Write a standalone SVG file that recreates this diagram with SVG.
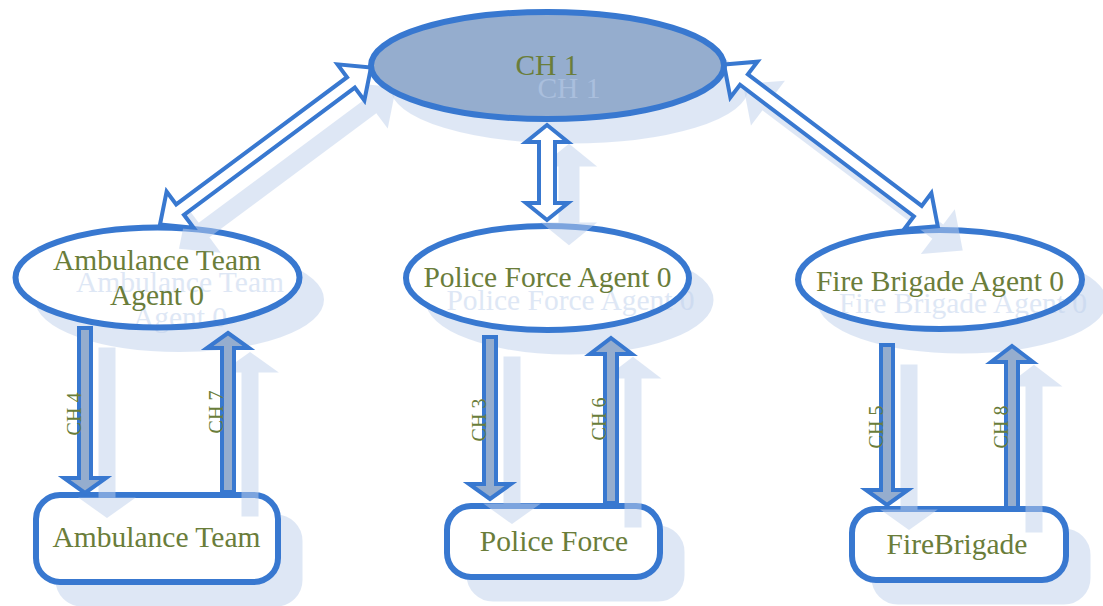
<svg xmlns="http://www.w3.org/2000/svg" xmlns:xlink="http://www.w3.org/1999/xlink" width="1103" height="606" viewBox="0 0 1103 606">
<style>
.sh{fill:#bfd1ed;stroke:#bfd1ed;stroke-width:5;opacity:.5}
.node{fill:#fff;stroke:#3878d0;stroke-width:6}
.fillonly{stroke:none}
.strokeonly{fill:none;stroke:#3878d0;stroke-width:6}
.top{fill:#95adce}
.t{font-family:"Liberation Serif","Times New Roman",serif;font-size:29.5px;fill:#6a7d3a;text-anchor:middle}
.ts{font-family:"Liberation Serif","Times New Roman",serif;font-size:29.5px;fill:#bfd1ed;opacity:.5;text-anchor:middle}
.lbl{font-family:"Liberation Serif","Times New Roman",serif;font-size:20px;fill:#6a7d3a;text-anchor:middle}
.da{fill:#fff;stroke:#3878d0;stroke-width:4;stroke-linejoin:miter}
.ba{fill:#95adce;stroke:#3878d0;stroke-width:4;stroke-linejoin:miter}
</style>
<defs>
<polygon id="dL" points="0,0 25,-22.5 25,-6.5 238,-6.5 238,-22.5 263,0 238,22.5 238,6.5 25,6.5 25,22.5" transform="translate(160,224.5) rotate(-36.65)"/>
<polygon id="dR" points="0,0 25,-22.5 25,-6.5 243,-6.5 243,-22.5 268,0 243,22.5 243,6.5 25,6.5 25,22.5" transform="translate(724,64.5) rotate(37.1)"/>
<polygon id="dM" points="547,125 568,142 555,142 555,203 568,203 547,220 526,203 539,203 539,142 526,142"/>
<polygon id="a4" points="79,328 91,328 91,478 106,478 85,493 64,478 79,478"/>
<polygon id="a7" points="228,333 249,348 234,348 234,492 222,492 222,348 207,348"/>
<polygon id="a3" points="484,337 496,337 496,484 511,484 490,499 469,484 484,484"/>
<polygon id="a6" points="611,338 632,354 617,354 617,503 605,503 605,354 590,354"/>
<polygon id="a5" points="881,345 893,345 893,490 908,490 887,505 866,490 881,490"/>
<polygon id="a8" points="1012,346 1033,362 1018,362 1018,508 1006,508 1006,362 991,362"/>
</defs>

<g id="ch1-shadow">
<ellipse class="sh" cx="569.5" cy="87.5" rx="176.5" ry="53.5"/>
</g>

<g id="ambulance-agent">
<ellipse class="sh" cx="179.5" cy="299.5" rx="142" ry="50"/>
<ellipse class="node fillonly" cx="157.5" cy="277.5" rx="142" ry="50"/>
<text class="ts" x="180" y="292">Ambulance Team</text>
<text class="ts" x="180" y="327">Agent 0</text>
<ellipse class="strokeonly" cx="157.5" cy="277.5" rx="142" ry="50"/>
<text class="t" x="157" y="270">Ambulance Team</text>
<text class="t" x="157" y="305">Agent 0</text>
</g>

<g id="police-agent">
<ellipse class="sh" cx="569.5" cy="300" rx="141.5" ry="52"/>
<ellipse class="node fillonly" cx="547.5" cy="278" rx="141.5" ry="52"/>
<text class="ts" x="570.5" y="310">Police Force Agent 0</text>
<ellipse class="strokeonly" cx="547.5" cy="278" rx="141.5" ry="52"/>
<text class="t" x="547.5" y="287">Police Force Agent 0</text>
</g>

<g id="fire-agent">
<ellipse class="sh" cx="962" cy="301.5" rx="142" ry="49.5"/>
<ellipse class="node fillonly" cx="940" cy="279.5" rx="142" ry="49.5"/>
<text class="ts" x="963" y="313">Fire Brigade Agent 0</text>
<ellipse class="strokeonly" cx="940" cy="279.5" rx="142" ry="49.5"/>
<text class="t" x="940" y="291">Fire Brigade Agent 0</text>
</g>

<g id="ambulance-team">
<rect class="sh" x="58" y="517" width="242" height="87" rx="24"/>
<rect class="node" x="36" y="495" width="242" height="87" rx="24"/>
<text class="t" x="156.5" y="547">Ambulance Team</text>
</g>

<g id="police-force">
<rect class="sh" x="469" y="528" width="213" height="71" rx="24"/>
<rect class="node" x="447" y="506" width="213" height="71" rx="24"/>
<text class="t" x="554" y="551">Police Force</text>
</g>

<g id="fire-brigade">
<rect class="sh" x="874" y="531" width="214" height="71" rx="24"/>
<rect class="node" x="852" y="509" width="214" height="71" rx="24"/>
<text class="t" x="957" y="554">FireBrigade</text>
</g>

<g id="connectors">
<g transform="translate(22,22)">
<use xlink:href="#dL" href="#dL" class="sh"/>
<use xlink:href="#dR" href="#dR" class="sh"/>
<use xlink:href="#dM" href="#dM" class="sh"/>
<use xlink:href="#a4" href="#a4" class="sh"/>
<use xlink:href="#a7" href="#a7" class="sh"/>
<use xlink:href="#a3" href="#a3" class="sh"/>
<use xlink:href="#a6" href="#a6" class="sh"/>
<use xlink:href="#a5" href="#a5" class="sh"/>
<use xlink:href="#a8" href="#a8" class="sh"/>
</g>
<use xlink:href="#dL" href="#dL" class="da"/>
<use xlink:href="#dR" href="#dR" class="da"/>
<use xlink:href="#dM" href="#dM" class="da"/>
<use xlink:href="#a4" href="#a4" class="ba"/>
<use xlink:href="#a7" href="#a7" class="ba"/>
<use xlink:href="#a3" href="#a3" class="ba"/>
<use xlink:href="#a6" href="#a6" class="ba"/>
<use xlink:href="#a5" href="#a5" class="ba"/>
<use xlink:href="#a8" href="#a8" class="ba"/>
<text class="lbl" transform="translate(81,414) rotate(-90)">CH 4</text>
<text class="lbl" transform="translate(223,412) rotate(-90)">CH 7</text>
<text class="lbl" transform="translate(486,420) rotate(-90)">CH 3</text>
<text class="lbl" transform="translate(606,419) rotate(-90)">CH 6</text>
<text class="lbl" transform="translate(883,427) rotate(-90)">CH 5</text>
<text class="lbl" transform="translate(1008,427) rotate(-90)">CH 8</text>
</g>

<g id="ch1">
<ellipse class="top" cx="547.5" cy="65.5" rx="176.5" ry="53.5"/>
<text class="ts" x="569" y="98">CH 1</text>
<ellipse class="strokeonly" cx="547.5" cy="65.5" rx="176.5" ry="53.5"/>
<text class="t" x="547" y="75">CH 1</text>
</g>
</svg>
